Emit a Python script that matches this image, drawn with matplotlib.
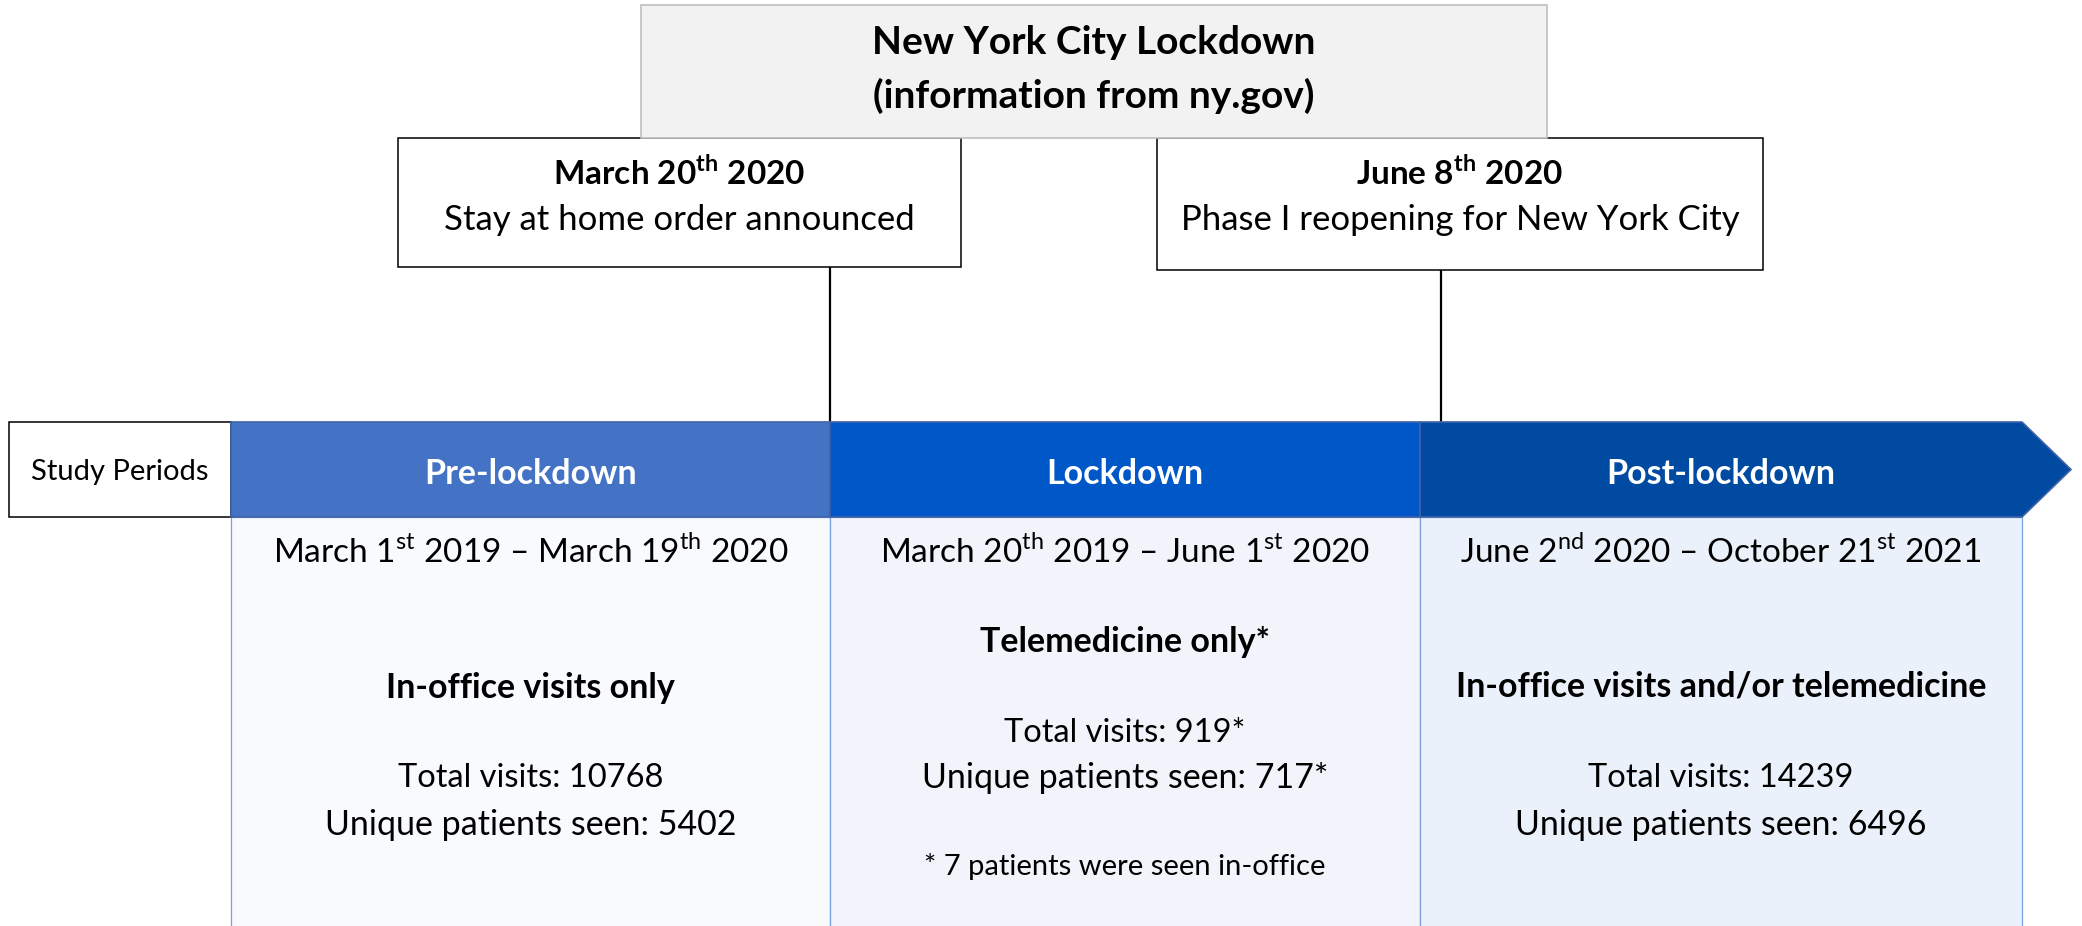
import matplotlib
matplotlib.use("Agg")
import matplotlib.pyplot as plt
from matplotlib.patches import Rectangle, Polygon

plt.rcParams['font.family'] = ['Lato', 'DejaVu Sans']
plt.rcParams['mathtext.fontset'] = 'custom'
plt.rcParams['mathtext.rm'] = 'Lato'
plt.rcParams['mathtext.bf'] = 'Lato:bold'

# content
title_lines = ["New York City Lockdown", "(information from ny.gov)"]
event_dates = [r"March 20$^{\mathbf{th}}$ 2020", r"June 8$^{\mathbf{th}}$ 2020"]
event_texts = ["Stay at home order announced", "Phase I reopening for New York City"]
periods = ["Pre-lockdown", "Lockdown", "Post-lockdown"]
date_ranges = [
    r"March 1$^{\mathrm{st}}$ 2019 – March 19$^{\mathrm{th}}$ 2020",
    r"March 20$^{\mathrm{th}}$ 2019 – June 1$^{\mathrm{st}}$ 2020",
    r"June 2$^{\mathrm{nd}}$ 2020 – October 21$^{\mathrm{st}}$ 2021",
]
visit_modes = ["In-office visits only", "Telemedicine only*", "In-office visits and/or telemedicine"]
total_visits = ["10768", "919*", "14239"]
unique_patients = ["5402", "717*", "6496"]
footnotes = ["", "* 7 patients were seen in-office", ""]

# styling / layout (pixel units)
header_colors = ["#4472C4", "#0057C8", "#004AA2"]
body_colors = ["#F8FAFD", "#F1F5FB", "#EBF1FA"]
col_edges = [231, 830, 1420, 2022]
mode_y = [688, 642, 687]
totals_y = [778, 733, 778]
unique_y = [825, 778, 825]

W, H = 2082, 926
fig = plt.figure(figsize=(W / 100, H / 100), dpi=100)
ax = fig.add_axes([0, 0, 1, 1])
ax.set_xlim(0, W)
ax.set_ylim(H, 0)
ax.axis('off')

# top title box
ax.add_patch(Rectangle((641, 5), 906, 133, facecolor="#F2F2F2", edgecolor="#BFBFBF", lw=1.2, zorder=3))
ax.text(1094, 43, title_lines[0], ha='center', va='center', fontsize=28, fontweight='bold', zorder=4)
ax.text(1094, 96, title_lines[1], ha='center', va='center', fontsize=28, fontweight='bold', zorder=4)

# event boxes and connectors
event_boxes = [(398, 961, 267), (1157, 1763, 270)]
event_lines_x = [830, 1441]
for i, (x0, x1, y1) in enumerate(event_boxes):
    ax.add_patch(Rectangle((x0, 138), x1 - x0, y1 - 138, facecolor="white", edgecolor="black", lw=1.1, zorder=2))
    cx = (x0 + x1) / 2
    ax.text(cx, 173, event_dates[i], ha='center', va='center', fontsize=24, fontweight='bold', zorder=4)
    ax.text(cx, 220, event_texts[i], ha='center', va='center', fontsize=25, zorder=4)
    ax.plot([event_lines_x[i], event_lines_x[i]], [y1, 422], color="black", lw=1.6, zorder=1)

# study periods label box
ax.add_patch(Rectangle((9, 422), 222, 95, facecolor="white", edgecolor="black", lw=1.1, zorder=2))
ax.text(120, 472, "Study Periods", ha='center', va='center', fontsize=21, zorder=4)

# header band with arrow at the end
top, bot = 422, 517
for i in range(3):
    x0, x1 = col_edges[i], col_edges[i + 1]
    if i < 2:
        ax.add_patch(Rectangle((x0, top), x1 - x0, bot - top, facecolor=header_colors[i],
                               edgecolor="#3F63A6", lw=1.2, zorder=2))
    else:
        ax.add_patch(Polygon([(x0, top), (x1, top), (2071, (top + bot) / 2), (x1, bot), (x0, bot)],
                             closed=True, facecolor=header_colors[i], edgecolor="#3F63A6", lw=1.2, zorder=2))
    cx = (x0 + x1) / 2
    ax.text(cx, 474, periods[i], ha='center', va='center', fontsize=24.5, fontweight='bold',
            color="white", zorder=4)

    # body column
    ax.add_patch(Rectangle((x0, bot), x1 - x0, 940 - bot, facecolor=body_colors[i],
                           edgecolor="#7B9FDB", lw=0.9, zorder=1))
    ax.text(cx, 552, date_ranges[i], ha='center', va='center', fontsize=24, zorder=4)
    ax.text(cx, mode_y[i], visit_modes[i], ha='center', va='center', fontsize=24.5, fontweight='bold', zorder=4)
    ax.text(cx, totals_y[i], f"Total visits: {total_visits[i]}", ha='center', va='center', fontsize=23.5, zorder=4)
    ax.text(cx, unique_y[i], f"Unique patients seen: {unique_patients[i]}", ha='center', va='center',
            fontsize=24.5, zorder=4)
    if footnotes[i]:
        ax.text(cx, 867, footnotes[i], ha='center', va='center', fontsize=21, zorder=4)

fig.savefig("out.png", dpi=100)
